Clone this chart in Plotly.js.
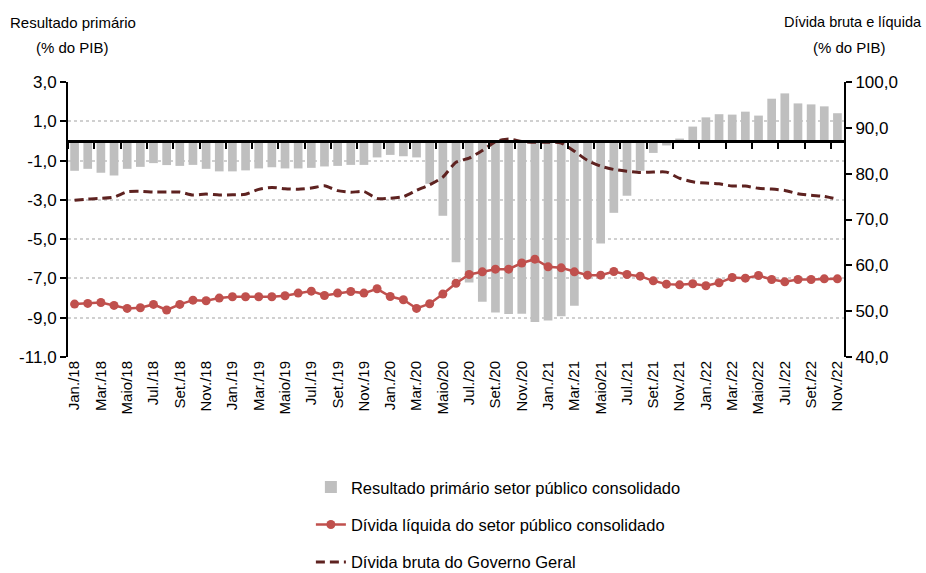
<!DOCTYPE html>
<html>
<head>
<meta charset="utf-8">
<script src="https://cdn.plot.ly/plotly-3.0.1.min.js"></script>
<style>html,body{margin:0;padding:0;background:#fff;}#chart{width:926px;height:573px;}</style>
</head>
<body>
<div id="chart"></div>
<script>
// Categories (monthly, Jan/2018 - Nov/2022)
const categories = [
  "Jan./18","Fev./18","Mar./18","Abr./18","Maio/18","Jun./18","Jul./18","Ago./18","Set./18","Out./18","Nov./18","Dez./18",
  "Jan./19","Fev./19","Mar./19","Abr./19","Maio/19","Jun./19","Jul./19","Ago./19","Set./19","Out./19","Nov./19","Dez./19",
  "Jan./20","Fev./20","Mar./20","Abr./20","Maio/20","Jun./20","Jul./20","Ago./20","Set./20","Out./20","Nov./20","Dez./20",
  "Jan./21","Fev./21","Mar./21","Abr./21","Maio/21","Jun./21","Jul./21","Ago./21","Set./21","Out./21","Nov./21","Dez./21",
  "Jan./22","Fev./22","Mar./22","Abr./22","Maio/22","Jun./22","Jul./22","Ago./22","Set./22","Out./22","Nov./22"
];
// Tick labels shown (every second month)
const tickLabels = ["Jan./18","Mar./18","Maio/18","Jul./18","Set./18","Nov./18",
  "Jan./19","Mar./19","Maio/19","Jul./19","Set./19","Nov./19",
  "Jan./20","Mar./20","Maio/20","Jul./20","Set./20","Nov./20",
  "Jan./21","Mar./21","Maio/21","Jul./21","Set./21","Nov./21",
  "Jan./22","Mar./22","Maio/22","Jul./22","Set./22","Nov./22"];
// Left axis tick values
const leftTicks = [3, 1, -1, -3, -5, -7, -9, -11];

// Resultado primário setor público consolidado (% do PIB) - left axis
const resultadoPrimario = [
  -1.52,-1.42,-1.62,-1.76,-1.42,-1.32,-1.13,-1.23,-1.27,-1.22,-1.42,-1.55,
  -1.55,-1.50,-1.40,-1.34,-1.40,-1.40,-1.37,-1.30,-1.27,-1.22,-1.22,-0.84,
  -0.71,-0.78,-0.84,-2.18,-3.81,-6.17,-7.21,-8.19,-8.73,-8.81,-8.80,-9.22,
  -9.14,-8.92,-8.39,-6.70,-5.22,-3.66,-2.79,-1.52,-0.61,-0.23,0.12,0.73,
  1.20,1.36,1.34,1.49,1.29,2.15,2.42,1.91,1.86,1.76,1.41
];
// Dívida líquida do setor público consolidado (% do PIB) - right axis
const dividaLiquida = [
  51.55,51.69,51.90,51.25,50.60,50.75,51.47,50.25,51.47,52.40,52.27,52.86,
  53.14,53.14,53.14,53.14,53.36,53.94,54.37,53.43,53.94,54.30,53.94,54.88,
  53.20,52.50,50.60,51.62,53.73,56.10,58.00,58.58,59.16,59.16,60.50,61.34,
  59.67,59.45,58.58,57.86,57.86,58.65,58.00,57.64,56.62,55.90,55.75,55.97,
  55.54,56.19,57.34,57.20,57.78,56.90,56.40,56.90,56.90,57.05,57.05
];
// Dívida bruta do Governo Geral (% do PIB) - right axis
const dividaBruta = [
  74.18,74.46,74.61,74.90,76.05,76.14,75.98,75.98,75.98,75.33,75.55,75.33,
  75.40,75.50,76.57,77.00,76.70,76.60,76.85,77.35,76.30,75.95,76.10,74.60,
  74.65,74.97,76.35,77.57,79.25,82.50,83.40,85.05,87.00,87.58,87.00,86.86,
  86.86,86.70,84.90,82.88,81.64,80.92,80.55,80.27,80.34,80.34,79.00,78.22,
  77.94,77.80,77.30,77.30,76.80,76.65,76.35,75.62,75.27,75.05,74.46
];

const leftRange = [-11, 3];
const rightRange = [40, 100];
const font = "'Liberation Sans', Arial, sans-serif";
const fmt = v => v.toFixed(1).replace('.', ',');

const traces = [
  {
    type: 'bar', name: 'Resultado primário setor público consolidado',
    x: categories, y: resultadoPrimario, xaxis: 'x', yaxis: 'y',
    marker: {color: '#bfbfbf', line: {width: 0}},
    legendgroup: 'a', hoverinfo: 'x+y'
  },
  {
    type: 'scatter', mode: 'lines+markers', name: 'Dívida líquida do setor público consolidado',
    x: categories, y: dividaLiquida, xaxis: 'x', yaxis: 'y2',
    line: {color: '#c0504d', width: 2.5},
    marker: {color: '#c0504d', size: 9},
    legendgroup: 'b'
  },
  {
    type: 'scatter', mode: 'lines', name: 'Dívida bruta do Governo Geral',
    x: categories, y: dividaBruta, xaxis: 'x', yaxis: 'y2',
    line: {color: '#5e2220', width: 3, dash: '9px,5px', shape: 'spline', smoothing: 0.6},
    legendgroup: 'c'
  },
  {
    // carries the category axis that draws the zero line with boundary ticks
    type: 'scatter', mode: 'none', x: categories, y: categories.map(() => null),
    xaxis: 'x2', yaxis: 'y', showlegend: false, hoverinfo: 'skip'
  }
];

const zeroPos = (0 - leftRange[0]) / (leftRange[1] - leftRange[0]);

const layout = {
  width: 926, height: 573,
  margin: {l: 68, r: 82, t: 82, b: 216, pad: 0},
  paper_bgcolor: '#ffffff', plot_bgcolor: '#ffffff',
  separators: ',.',
  showlegend: true,
  bargap: 0.34,
  font: {family: font, color: '#000000', size: 16},
  xaxis: {
    type: 'category', range: [-0.5, categories.length - 0.5], automargin: false,
    tickmode: 'array', tickvals: tickLabels, ticktext: tickLabels,
    tickangle: -90, ticks: '', showline: false, showgrid: false, zeroline: false,
    tickfont: {family: font, size: 15, color: '#000'}
  },
  xaxis2: {
    type: 'category', overlaying: 'x', anchor: 'free', position: zeroPos, side: 'bottom',
    range: [-0.5, categories.length - 0.5], automargin: false,
    showline: true, linecolor: '#000', linewidth: 2.5,
    ticks: 'outside', tickson: 'boundaries', ticklen: 6, tickwidth: 2, tickcolor: '#000',
    showticklabels: false, showgrid: false, zeroline: false
  },
  yaxis: {
    range: leftRange, tickmode: 'array', tickvals: leftTicks, ticktext: leftTicks.map(fmt),
    automargin: false,
    showline: true, linecolor: '#000', linewidth: 2,
    ticks: 'outside', ticklen: 6, tickwidth: 2, tickcolor: '#000',
    showgrid: true, gridcolor: '#d0d0d0', griddash: 'dot', gridwidth: 1.5,
    zeroline: false,
    tickfont: {family: font, size: 17, color: '#000'}
  },
  yaxis2: {
    range: rightRange, dtick: 10, tick0: 40, tickformat: '.1f', automargin: false,
    overlaying: 'y', side: 'right', anchor: 'x',
    showline: true, linecolor: '#000', linewidth: 2,
    ticks: 'outside', ticklen: 6, tickwidth: 2, tickcolor: '#000',
    showgrid: false, zeroline: false,
    tickfont: {family: font, size: 17, color: '#000'}
  },
  legend: {
    orientation: 'v', x: 0.313, xanchor: 'left',
    yref: 'container', y: 0.18, yanchor: 'top',
    traceorder: 'grouped', tracegroupgap: 13,
    font: {family: font, size: 16.5, color: '#000'},
    bgcolor: 'rgba(0,0,0,0)'
  },
  annotations: [
    {text: 'Resultado primário', xref: 'paper', yref: 'paper',
     x: 0.006, y: 1.2178, xanchor: 'center', yanchor: 'middle', showarrow: false,
     font: {family: font, size: 15, color: '#000'}},
    {text: '(% do PIB)', xref: 'paper', yref: 'paper',
     x: 0.006, y: 1.127, xanchor: 'center', yanchor: 'middle', showarrow: false,
     font: {family: font, size: 15, color: '#000'}},
    {text: 'Dívida bruta e líquida', xref: 'paper', yref: 'paper',
     x: 1.0115, y: 1.2178, xanchor: 'center', yanchor: 'middle', showarrow: false,
     font: {family: font, size: 14.5, color: '#000'}},
    {text: '(% do PIB)', xref: 'paper', yref: 'paper',
     x: 1.0075, y: 1.127, xanchor: 'center', yanchor: 'middle', showarrow: false,
     font: {family: font, size: 15, color: '#000'}}
  ]
};

Plotly.newPlot('chart', traces, layout, {displayModeBar: false, responsive: false});
</script>
</body>
</html>
